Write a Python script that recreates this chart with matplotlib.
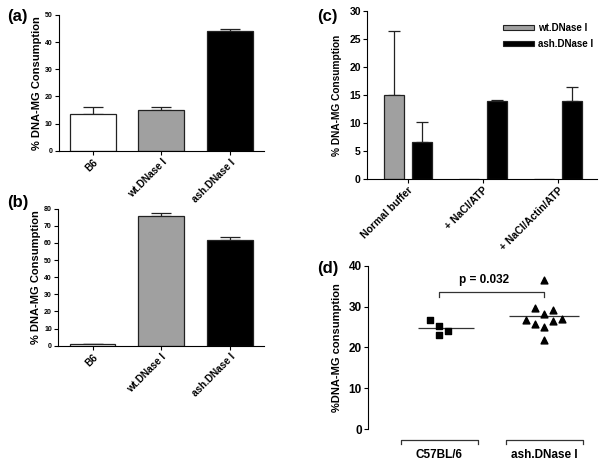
import matplotlib
matplotlib.use("Agg")
import matplotlib.pyplot as plt
import numpy as np
from matplotlib.patches import Patch

plt.rcParams['font.family'] = ['Liberation Sans', 'DejaVu Sans']
plt.rcParams['font.weight'] = 'bold'

# ---- data ----
ab_categories = ["B6", "wt.DNase I", "ash.DNase I"]
ab_colors = ["white", "#a0a0a0", "black"]
a_values = [13.5, 15.0, 44.0]
a_errors = [2.8, 1.0, 0.9]
b_values = [1.2, 75.5, 62.0]
b_errors = [0.0, 2.0, 1.6]

c_categories = ["Normal buffer", "+ NaCl/ATP", "+ NaCl/Actin/ATP"]
c_wt_values = [15.0, 0.0, 0.0]
c_wt_errors = [11.5, 0.0, 0.0]
c_ash_values = [6.6, 14.0, 13.9]
c_ash_errors = [3.6, 0.15, 2.6]

d_groups = ["C57BL/6", "ash.DNase I"]
d_c57_values = [26.7, 25.3, 24.1, 23.0]
d_c57_cols = [-1, 0, 1, 0]
d_ash_values = [36.5, 29.7, 28.2, 29.2, 26.6, 25.7, 25.1, 26.5, 27.0, 21.8]
d_ash_cols = [0, -1, 0, 1, -2, -1, 0, 1, 2, 0]
d_means = [24.8, 27.7]
p_text = "p = 0.032"

fig = plt.figure(figsize=(6.0, 4.63), dpi=100)

def style(ax, fs):
    for s in ['top', 'right']:
        ax.spines[s].set_visible(False)
    for s in ['left', 'bottom']:
        ax.spines[s].set_linewidth(0.8)
    ax.tick_params(axis='both', direction='out', length=3, width=0.8, labelsize=fs, pad=1.5)

def bar_panel(ax, values, errors, ylim, yticks, ytick_fs):
    x = np.arange(len(values))
    ax.bar(x, values, width=0.67, color=ab_colors, edgecolor='#222222', linewidth=0.9, zorder=2)
    ax.errorbar(x, values, yerr=[np.zeros(len(errors)), errors], fmt='none',
                ecolor='#222222', elinewidth=0.9, capsize=7, capthick=0.9, zorder=1)
    ax.set_xlim(-0.5, 2.5)
    ax.set_ylim(*ylim)
    ax.set_yticks(yticks)
    style(ax, ytick_fs)
    ax.tick_params(axis='x', length=3)
    ax.set_xticks(x)
    ax.set_xticklabels(ab_categories, rotation=45, ha='right', rotation_mode='anchor', fontsize=7.2)
    ax.set_ylabel("% DNA-MG Consumption", fontsize=8, fontweight='bold', labelpad=2)

# (a)
axa = fig.add_axes([0.098, 0.674, 0.342, 0.294])
bar_panel(axa, a_values, a_errors, (0, 50), np.arange(0, 51, 10), 5)
fig.text(0.012, 0.955, "(a)", fontsize=12, fontweight='bold')

# (b)
axb = fig.add_axes([0.097, 0.2533, 0.343, 0.296])
bar_panel(axb, b_values, b_errors, (0, 80), np.arange(0, 81, 10), 5)
fig.text(0.012, 0.552, "(b)", fontsize=12, fontweight='bold')

# (c)
axc = fig.add_axes([0.6117, 0.6134, 0.383, 0.363])
xc = np.arange(len(c_categories))
off = 0.187
bw = 0.267
axc.bar(xc - off, c_wt_values, width=bw, color='#a0a0a0', edgecolor='#222222', linewidth=0.9, zorder=2)
axc.bar(xc + off, c_ash_values, width=bw, color='black', edgecolor='#222222', linewidth=0.9, zorder=2)
wt_mask = np.array(c_wt_values) > 0
axc.errorbar((xc - off)[wt_mask], np.array(c_wt_values)[wt_mask],
             yerr=[np.zeros(wt_mask.sum()), np.array(c_wt_errors)[wt_mask]], fmt='none',
             ecolor='#222222', elinewidth=0.9, capsize=4, capthick=0.9, zorder=1)
axc.errorbar(xc + off, c_ash_values, yerr=[np.zeros(3), c_ash_errors], fmt='none',
             ecolor='#222222', elinewidth=0.9, capsize=4, capthick=0.9, zorder=1)
axc.set_xlim(-0.547, 2.52)
axc.set_ylim(0, 30)
axc.set_yticks(np.arange(0, 31, 5))
style(axc, 7.5)
axc.set_xticks(xc)
axc.set_xticklabels(c_categories, rotation=45, ha='right', rotation_mode='anchor', fontsize=7.5)
axc.set_ylabel("% DNA-MG Consumption", fontsize=7.3, fontweight='bold', labelpad=5)
handles = [Patch(facecolor='#a0a0a0', edgecolor='#222222', linewidth=0.8),
           Patch(facecolor='black', edgecolor='#222222', linewidth=0.8)]
axc.legend(handles, ["wt.DNase I", "ash.DNase I"], loc='upper right', bbox_to_anchor=(1.02, 0.98),
           frameon=False, fontsize=7, handlelength=3.2, handleheight=0.3, handletextpad=0.4,
           labelspacing=0.6)
fig.text(0.528, 0.955, "(c)", fontsize=12, fontweight='bold')

# (d)
axd = fig.add_axes([0.6133, 0.0728, 0.37, 0.3534])
step = 0.086
xs1 = 1 + np.array(d_c57_cols) * step
xs2 = 2 + np.array(d_ash_cols) * step
axd.scatter(xs1, d_c57_values, marker='s', s=20, color='black', zorder=3)
axd.scatter(xs2, d_ash_values, marker='^', s=24, color='black', zorder=3)
axd.hlines(d_means[0], 1 - 0.2, 1 + 0.33, color='#333333', linewidth=0.9)
axd.hlines(d_means[1], 2 - 0.33, 2 + 0.33, color='#333333', linewidth=0.9)
axd.set_xlim(0.324, 2.438)
axd.set_ylim(0, 40)
axd.set_yticks(np.arange(0, 41, 10))
style(axd, 8.5)
axd.spines['bottom'].set_visible(False)
axd.set_xticks([])
axd.set_ylabel("%DNA-MG consumption", fontsize=8, fontweight='bold', labelpad=5)
# significance bracket
axd.plot([1, 1, 2, 2], [32.4, 33.6, 33.6, 32.4], color='#333333', linewidth=0.9)
axd.text(1.43, 35.0, p_text, ha='center', va='bottom', fontsize=8.5, fontweight='bold')
# group brackets below axis
tr = axd.get_xaxis_transform()
for i, g in enumerate(d_groups):
    c = i + 1
    axd.plot([c - 0.36, c - 0.36, c + 0.37, c + 0.37], [-0.09, -0.066, -0.066, -0.09],
             color='#333333', linewidth=0.9, transform=tr, clip_on=False)
    axd.text(c, -0.16, g, transform=tr, ha='center', va='center', fontsize=8.5, fontweight='bold')
fig.text(0.528, 0.41, "(d)", fontsize=12, fontweight='bold')

fig.savefig("out.png", dpi=100)
